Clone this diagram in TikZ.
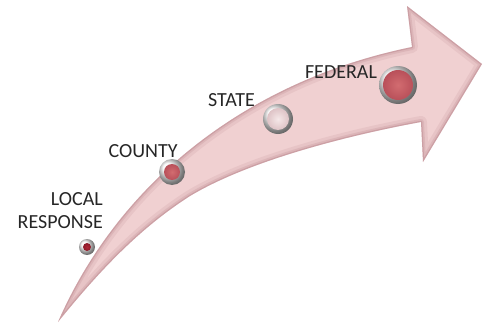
\documentclass[tikz,border=0pt]{standalone}
\usepackage{fontspec}
\setmainfont{Carlito}
\usepackage{xcolor}
\definecolor{arrowpink}{RGB}{240,208,209}
\definecolor{arrowedge}{RGB}{160,100,110}
\definecolor{dotred}{RGB}{210,108,112}
\definecolor{dotredout}{RGB}{185,80,90}
\definecolor{dotdark}{RGB}{175,40,55}
\definecolor{dotdarkout}{RGB}{140,25,40}
\definecolor{dotpale}{RGB}{245,232,232}
\definecolor{dotpaleout}{RGB}{222,195,198}

\begin{document}
\begin{tikzpicture}[x=1pt, y=-1pt,
  lbl/.style={inner sep=0pt, font=\fontsize{20}{23}\selectfont, text=black!85},
  ring/.style={circle, inner sep=0pt, shading=ball, ball color=gray!6},
  dot/.style={circle, inner sep=0pt, inner color=dotred, outer color=dotredout},
  darkdot/.style={dot, inner color=dotdark, outer color=dotdarkout},
  paledot/.style={dot, inner color=dotpale, outer color=dotpaleout},
  glow/.style={draw=arrowedge, line join=round}
]
\useasboundingbox (0,0) rectangle (483,324);
\path[save path=\arrowpath] (58,322) .. controls (120,180) and (250,80) .. (412,47)
  -- (407,6) -- (482,64) -- (423,162) -- (421,122)
  .. controls (350,135) and (250,160) .. (190,196)
  .. controls (140,228) and (100,270) .. (58,322) -- cycle;
\fill[arrowpink, use path=\arrowpath];
\begin{scope}
  \clip[use path=\arrowpath];
  \draw[glow, line width=12pt, opacity=0.10, use path=\arrowpath];
  \draw[glow, line width=6pt, opacity=0.15, use path=\arrowpath];
  \draw[glow, line width=2.5pt, opacity=0.25, use path=\arrowpath];
\end{scope}
\node[ring, minimum size=16pt] (localring) at (87,247) {};
\node[darkdot, minimum size=8pt] (localdot) at (localring) {};
\node[ring, minimum size=26pt] (countyring) at (172,172) {};
\node[dot, minimum size=16pt] (countydot) at (countyring) {};
\node[ring, minimum size=30pt] (statering) at (278,119) {};
\node[paledot, minimum size=22pt] (statedot) at (statering) {};
\node[ring, minimum size=38pt] (fedring) at (398,85) {};
\node[dot, minimum size=30pt] (feddot) at (fedring) {};
\node[lbl, align=right, anchor=north east] (local) at (103,192) {LOCAL\\RESPONSE};
\node[lbl] (county) at (143,151) {COUNTY};
\node[lbl] (state) at (231.5,100) {STATE};
\node[lbl] (federal) at (341,72) {FEDERAL};
\end{tikzpicture}
\end{document}
